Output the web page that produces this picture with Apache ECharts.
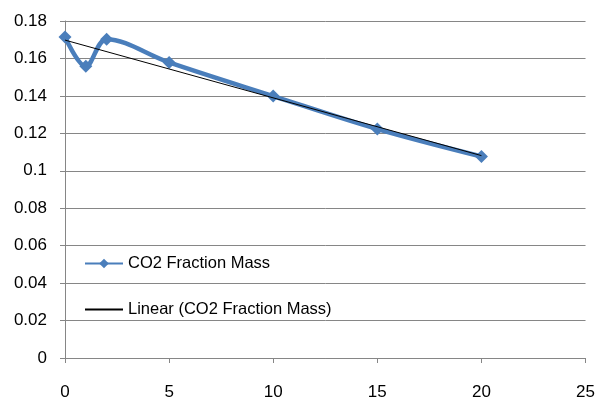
<!DOCTYPE html>
<html>
<head>
<meta charset="utf-8">
<script src="https://cdn.jsdelivr.net/npm/echarts@6/dist/echarts.min.js"></script>
<style>
  html, body { margin: 0; padding: 0; background: #fff; }
  #chart { width: 598px; height: 401px; }
</style>
</head>
<body>
<div id="chart"></div>
<script>
// Measured CO2 mass fraction against time step
const timeValues = [0, 1, 2, 5, 10, 15, 20];
const co2Fraction = [0.1715, 0.1558, 0.1703, 0.1579, 0.1399, 0.1223, 0.1076];

// Linear trend line end points
const trendX = [0, 20];
const trendY = [0.1698, 0.1081];

const seriesName = 'CO2 Fraction Mass';
const trendName = 'Linear (CO2 Fraction Mass)';

const font = 'Liberation Sans, Arial, sans-serif';

const chart = echarts.init(document.getElementById('chart'), null, { renderer: 'canvas' });
chart.setOption({
  animation: false,
  backgroundColor: '#ffffff',
  grid: { left: 65, right: 11, top: 21, bottom: 40 },
  legend: {
    orient: 'vertical',
    left: 79,
    top: 250,
    itemWidth: 38,
    itemHeight: 12,
    itemGap: 29,
    textStyle: { fontFamily: font, fontSize: 16.5, color: '#000' },
    data: [
      { name: seriesName },
      { name: trendName, itemStyle: { opacity: 0 } }
    ]
  },
  xAxis: {
    type: 'value',
    min: 0, max: 25, interval: 5,
    axisLine: { show: true, lineStyle: { color: '#868686', width: 1 } },
    axisTick: { show: true, inside: false, length: 5, lineStyle: { color: '#868686' } },
    axisLabel: { margin: 26, fontFamily: font, fontSize: 17, color: '#000' },
    splitLine: { show: false }
  },
  yAxis: {
    type: 'value',
    min: 0, max: 0.18, interval: 0.02,
    axisLine: { show: true, lineStyle: { color: '#868686', width: 1 } },
    axisTick: { show: true, inside: false, length: 5, lineStyle: { color: '#868686' } },
    axisLabel: {
      margin: 18, fontFamily: font, fontSize: 17, color: '#000',
      formatter: v => String(parseFloat(v.toFixed(2)))
    },
    splitLine: { show: true, lineStyle: { color: '#868686', width: 1 } }
  },
  series: [
    {
      name: seriesName,
      type: 'line',
      data: timeValues.map((t, i) => [t, co2Fraction[i]]),
      smooth: 0.35,
      symbol: 'diamond',
      symbolSize: 13,
      itemStyle: { color: '#4a7ebb' },
      lineStyle: { color: '#4a7ebb', width: 4.5 },
      z: 2
    },
    {
      name: trendName,
      type: 'line',
      data: trendX.map((t, i) => [t, trendY[i]]),
      symbol: 'none',
      itemStyle: { color: '#000000' },
      lineStyle: { color: '#000000', width: 1 },
      z: 3
    }
  ]
});
</script>
</body>
</html>
